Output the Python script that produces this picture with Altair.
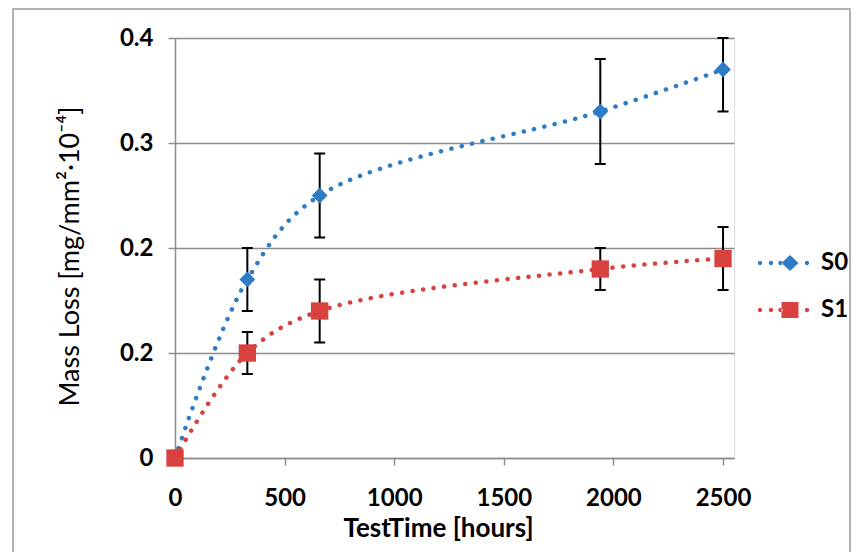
import altair as alt
import pandas as pd

# ---- data ----
series_names = ["S0", "S1"]
test_time = [0, 330, 660, 1940, 2500]
s0_value = [0.0, 0.17, 0.25, 0.33, 0.37]
s0_low = [0.0, 0.14, 0.21, 0.28, 0.33]
s0_high = [0.0, 0.20, 0.29, 0.38, 0.40]
s1_value = [0.0, 0.10, 0.14, 0.18, 0.19]
s1_low = [0.0, 0.08, 0.11, 0.16, 0.16]
s1_high = [0.0, 0.12, 0.17, 0.20, 0.22]

x_ticks = [0, 500, 1000, 1500, 2000, 2500]
y_ticks = [0, 0.1, 0.2, 0.3, 0.4]
y_tick_labels = ["0", "0.2", "0.2", "0.3", "0.4"]

colors = ["#2E7CC6", "#D9413F"]
FONT = "Lato"

rows = []
for name, vals, lo, hi in [("S0", s0_value, s0_low, s0_high), ("S1", s1_value, s1_low, s1_high)]:
    for t, v, l, h in zip(test_time, vals, lo, hi):
        rows.append({"series": name, "time": t, "value": v, "lo": l, "hi": h})
df = pd.DataFrame(rows)
err_df = df[df["hi"] > df["lo"]]

label_array = "[" + ",".join("'" + s + "'" for s in y_tick_labels) + "]"

x_axis = alt.Axis(
    title="TestTime [hours]", values=x_ticks, grid=False, format="d",
    domainColor="#8c8c8c", domainWidth=1.5, tickColor="#8c8c8c", tickWidth=1.5, tickSize=7,
    labelFont=FONT, labelFontSize=24, labelFontWeight="bold", labelColor="black", labelPadding=21,
    labelFlush=False, labelOverlap=False,
    titleFont=FONT, titleFontSize=26, titleFontWeight="bold", titleColor="black",
    titleX=263, titleY=70, titleBaseline="middle", titleAnchor="middle",
)
y_axis = alt.Axis(
    title="Mass Loss [mg/mm²·10⁻⁴]", values=y_ticks, grid=True,
    gridColor="#8c8c8c", gridWidth=1.5,
    domainColor="#8c8c8c", domainWidth=1.5, tickColor="#8c8c8c", tickWidth=1.5, tickSize=7,
    labelExpr=label_array + "[round(datum.value*10)]",
    labelFont=FONT, labelFontSize=24, labelFontWeight="bold", labelColor="black", labelPadding=15,
    labelFlush=False, labelOverlap=False,
    titleFont=FONT, titleFontSize=27, titleFontWeight="normal", titleColor="black",
    titleX=-105, titleY=218, titleBaseline="middle", titleAnchor="middle", titleAngle=-90,
)
x_scale = alt.Scale(domain=[0, 2550], nice=False, zero=False)
y_scale = alt.Scale(domain=[0, 0.4], nice=False)


def circle(cx, r):
    return f"M{cx - r},0 a{r},{r} 0 1,0 {2 * r},0 a{r},{r} 0 1,0 {-2 * r},0 Z "


dots = circle(-3.0, 0.22) + circle(-1.9, 0.22) + circle(-0.95, 0.22) + circle(1.7, 0.22)
path_s0 = dots + "M0,-0.8 L0.85,0 L0,0.8 L-0.85,0 Z"
path_s1 = dots + "M-0.85,-0.8 L0.85,-0.8 L0.85,0.8 L-0.85,0.8 Z"

legend = alt.Legend(
    title=None, orient="none", legendX=603, legendY=213, padding=0,
    symbolSize=400, labelOffset=19, rowPadding=23,
    labelFont=FONT, labelFontSize=24, labelFontWeight="bold", labelColor="black",
    symbolStrokeWidth=0, symbolOpacity=1,
    symbolType=alt.expr(f"datum.value === 'S0' ? '{path_s0}' : '{path_s1}'"),
)
color = alt.Color("series:N", scale=alt.Scale(domain=series_names, range=colors), legend=legend)

frame = alt.Chart(alt.Data(values=[{}])).mark_rect(
    filled=False, stroke="#9a9a9a", strokeWidth=1.5
).encode(x=alt.value(-162), x2=alt.value(675), y=alt.value(-29), y2=alt.value(640))

lines = alt.Chart(df).mark_line(
    interpolate="catmull-rom", strokeDash=[0.1, 10.5], strokeCap="round", strokeWidth=4.5
).encode(
    x=alt.X("time:Q", scale=x_scale, axis=x_axis),
    y=alt.Y("value:Q", scale=y_scale, axis=y_axis),
    color=color,
)

err_base = alt.Chart(err_df)
err_rule = err_base.mark_rule(color="black", strokeWidth=2).encode(
    x=alt.X("time:Q", scale=x_scale, axis=x_axis),
    y=alt.Y("lo:Q", scale=y_scale, axis=y_axis),
    y2="hi:Q",
)
cap_hi = err_base.mark_rule(color="black", strokeWidth=2, xOffset=-5.5, x2Offset=5.5).encode(
    x=alt.X("time:Q", scale=x_scale, axis=x_axis), x2="time:Q",
    y=alt.Y("hi:Q", scale=y_scale, axis=y_axis),
)
cap_lo = err_base.mark_rule(color="black", strokeWidth=2, xOffset=-5.5, x2Offset=5.5).encode(
    x=alt.X("time:Q", scale=x_scale, axis=x_axis), x2="time:Q",
    y=alt.Y("lo:Q", scale=y_scale, axis=y_axis),
)

pts_s0 = alt.Chart(df).transform_filter(alt.datum.series == "S0").mark_point(
    shape="diamond", size=250, filled=True, opacity=1
).encode(
    x=alt.X("time:Q", scale=x_scale, axis=x_axis),
    y=alt.Y("value:Q", scale=y_scale, axis=y_axis),
    color=color,
)
pts_s1 = alt.Chart(df).transform_filter(alt.datum.series == "S1").mark_point(
    shape="square", size=300, filled=True, opacity=1
).encode(
    x=alt.X("time:Q", scale=x_scale, axis=x_axis),
    y=alt.Y("value:Q", scale=y_scale, axis=y_axis),
    color=color,
)

chart = alt.layer(frame, lines, err_rule, cap_hi, cap_lo, pts_s0, pts_s1).properties(
    width=559, height=420,
    autosize=alt.AutoSizeParams(type="none"),
    padding={"left": 167, "top": 30, "right": 117, "bottom": 94},
).configure_view(stroke=None).configure(background="white")

chart.save("out.html", embed_options={"renderer": "svg", "actions": False})
